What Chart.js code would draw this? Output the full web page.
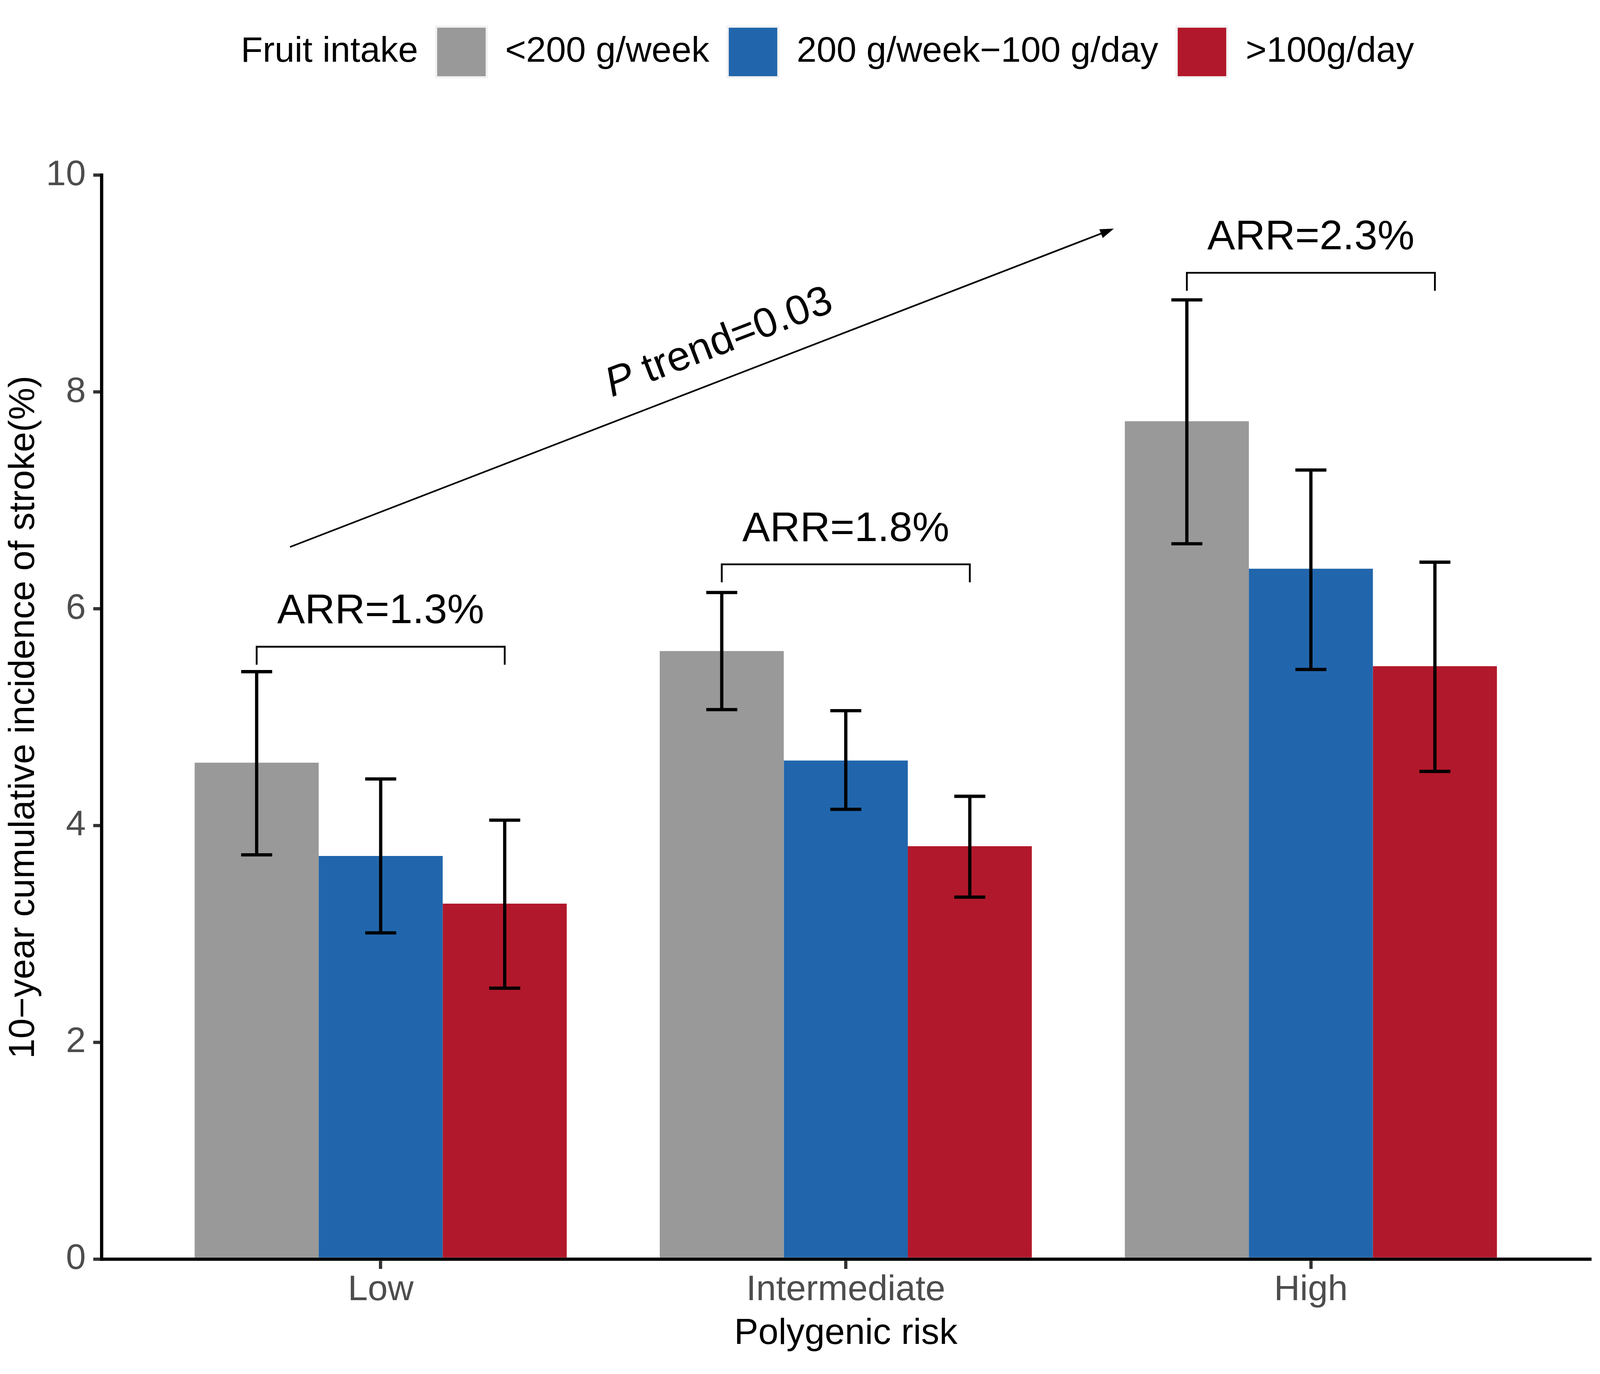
<!DOCTYPE html>
<html>
<head>
<meta charset="utf-8">
<script src="https://cdn.jsdelivr.net/npm/chart.js@4.4.1/dist/chart.umd.min.js"></script>
<style>
  html, body { margin: 0; padding: 0; background: #fff; overflow: hidden; }
  canvas { display: block; }
</style>
</head>
<body>
<canvas id="chart"></canvas>
<script>
// categories and series
const categories   = ['Low', 'Intermediate', 'High'];
const seriesLabels = ['<200 g/week', '200 g/week\u2212100 g/day', '>100g/day'];
const seriesColors = ['#999999', '#2166AC', '#B2182B'];

// bar heights (10-year cumulative incidence, %)
const grayValues = [4.58, 5.61, 7.73];
const blueValues = [3.72, 4.60, 6.37];
const redValues  = [3.28, 3.81, 5.47];

// 95% CI
const grayLower = [3.73, 5.07, 6.60];
const grayUpper = [5.42, 6.15, 8.85];
const blueLower = [3.01, 4.15, 5.44];
const blueUpper = [4.43, 5.06, 7.28];
const redLower  = [2.50, 3.34, 4.50];
const redUpper  = [4.05, 4.27, 6.43];

// annotations
const arrLabels  = ['ARR=1.3%', 'ARR=1.8%', 'ARR=2.3%'];
const bracketY   = [5.65, 6.41, 9.10];
const trendStart = [0.805, 6.57];
const trendEnd   = [2.572, 9.50];
const trendPos   = [1.728, 8.45];

const yTicks = [0, 2, 4, 6, 8, 10];

// layout; scale to whatever window we get
const W = window.innerWidth || 4770, H = window.innerHeight || 3517;
const sx = W / 4770, sy = H / 3517, fs = Math.sqrt(sx * sy);

const FONT = "'Liberation Sans', Arial, Helvetica, sans-serif";
Chart.defaults.font.family = FONT;

const allValues = [grayValues, blueValues, redValues];
const allLower  = [grayLower, blueLower, redLower];
const allUpper  = [grayUpper, blueUpper, redUpper];

const datasets = allValues.map((vals, s) => ({
  label: seriesLabels[s],
  data: vals.map((v, i) => ({ x: i + 1, y: v })),
  backgroundColor: seriesColors[s],
  borderWidth: 0,
  categoryPercentage: 0.8,
  barPercentage: 1.0,
}));

const annotate = {
  id: 'annotate',
  afterDatasetsDraw(chart) {
    const ctx = chart.ctx;
    const xs = chart.scales.x, ys = chart.scales.y;

    // error bars
    ctx.save();
    ctx.strokeStyle = '#000';
    ctx.lineWidth = 9 * fs;
    allValues.forEach((vals, s) => {
      const meta = chart.getDatasetMeta(s);
      meta.data.forEach((bar, i) => {
        const cap = bar.width * 0.125;
        const yl = ys.getPixelForValue(allLower[s][i]);
        const yu = ys.getPixelForValue(allUpper[s][i]);
        ctx.beginPath();
        ctx.moveTo(bar.x, yl); ctx.lineTo(bar.x, yu);
        ctx.moveTo(bar.x - cap, yu); ctx.lineTo(bar.x + cap, yu);
        ctx.moveTo(bar.x - cap, yl); ctx.lineTo(bar.x + cap, yl);
        ctx.stroke();
      });
    });
    ctx.restore();

    // ARR brackets + labels
    ctx.save();
    ctx.strokeStyle = '#000';
    ctx.lineWidth = 5 * fs;
    ctx.fillStyle = '#000';
    ctx.font = (115 * fs) + 'px ' + FONT;
    ctx.textAlign = 'center';
    ctx.textBaseline = 'alphabetic';
    categories.forEach((c, i) => {
      const x1 = chart.getDatasetMeta(0).data[i].x;
      const x2 = chart.getDatasetMeta(2).data[i].x;
      const yb = ys.getPixelForValue(bracketY[i]);
      ctx.beginPath();
      ctx.moveTo(x1, yb + 46 * sy); ctx.lineTo(x1, yb);
      ctx.lineTo(x2, yb); ctx.lineTo(x2, yb + 46 * sy);
      ctx.stroke();
      ctx.fillText(arrLabels[i], xs.getPixelForValue(i + 1), yb - 60 * sy);
    });
    ctx.restore();

    // trend arrow
    const ax1 = xs.getPixelForValue(trendStart[0]), ay1 = ys.getPixelForValue(trendStart[1]);
    const ax2 = xs.getPixelForValue(trendEnd[0]),   ay2 = ys.getPixelForValue(trendEnd[1]);
    const ang = Math.atan2(ay2 - ay1, ax2 - ax1);
    ctx.save();
    ctx.strokeStyle = '#000';
    ctx.fillStyle = '#000';
    ctx.lineWidth = 4.5 * fs;
    ctx.beginPath();
    ctx.moveTo(ax1, ay1); ctx.lineTo(ax2, ay2);
    ctx.stroke();
    ctx.translate(ax2, ay2);
    ctx.rotate(ang);
    ctx.beginPath();
    ctx.moveTo(6 * fs, 0); ctx.lineTo(-32 * fs, -13 * fs); ctx.lineTo(-32 * fs, 13 * fs); ctx.closePath();
    ctx.fill();
    ctx.restore();

    // P trend text, italic P
    ctx.save();
    ctx.translate(xs.getPixelForValue(trendPos[0]), ys.getPixelForValue(trendPos[1]));
    ctx.rotate(ang);
    ctx.fillStyle = '#000';
    ctx.textBaseline = 'middle';
    ctx.textAlign = 'left';
    const fItal = 'italic ' + (115 * fs) + 'px ' + FONT, fReg = (115 * fs) + 'px ' + FONT;
    const rest = ' trend=0.03';
    ctx.font = fItal;
    const wP = ctx.measureText('P').width;
    ctx.font = fReg;
    const wR = ctx.measureText(rest).width;
    const x0 = -(wP + wR) / 2;
    ctx.font = fItal;
    ctx.fillText('P', x0, 0);
    ctx.font = fReg;
    ctx.fillText(rest, x0 + wP, 0);
    ctx.restore();
  },
  afterDraw(chart) {
    // legend: title, keys and labels in one row
    const ctx = chart.ctx;
    ctx.save();
    ctx.font = (99 * fs) + 'px ' + FONT;
    ctx.fillStyle = '#000';
    ctx.textBaseline = 'middle';
    ctx.textAlign = 'left';
    const cy = 133 * sy, key = 134 * fs, rim = 6 * fs;
    let x = 718 * sx;
    ctx.fillText('Fruit intake', x, cy);
    x += ctx.measureText('Fruit intake').width + 57 * sx;
    seriesLabels.forEach((lab, s) => {
      ctx.fillStyle = '#F2F2F2';
      ctx.fillRect(x - rim, cy - key / 2 - rim, key + 2 * rim, key + 2 * rim);
      ctx.fillStyle = seriesColors[s];
      ctx.fillRect(x, cy - key / 2, key, key);
      x += key + 58 * sx;
      ctx.fillStyle = '#000';
      ctx.fillText(lab, x, cy);
      x += ctx.measureText(lab).width + 58 * sx;
    });
    ctx.restore();
  }
};

const canvas = document.getElementById('chart');
canvas.width = W; canvas.height = H;
canvas.style.width = W + 'px'; canvas.style.height = H + 'px';

const xTitleLH = 100 * fs, yTitleLH = 100 * fs;

new Chart(canvas, {
  type: 'bar',
  data: { datasets },
  options: {
    responsive: false,
    devicePixelRatio: 1,
    animation: false,
    layout: { padding: { left: 0, right: 30 * sx, top: 448.5 * sy, bottom: 0 } },
    plugins: { legend: { display: false }, tooltip: { enabled: false } },
    scales: {
      x: {
        type: 'linear', min: 0.4, max: 3.6, offset: false,
        afterBuildTicks: s => { s.ticks = categories.map((c, i) => ({ value: i + 1 })); },
        afterFit: s => { s.height = H - 3223 * sy; },
        ticks: { callback: v => categories[v - 1], font: { size: 99 * fs }, color: '#4D4D4D', padding: 0, maxRotation: 0 },
        grid: { display: true, drawOnChartArea: false, drawTicks: true, tickLength: 25 * sy, color: '#333333', lineWidth: 9 * fs, offset: false },
        border: { display: true, color: '#000', width: 9 * fs },
        title: { display: true, text: 'Polygenic risk', color: '#000', font: { size: 100 * fs, lineHeight: 1.0 },
                 padding: { top: 0, bottom: H - 3414 * sy - xTitleLH / 2 } }
      },
      y: {
        min: 0, max: 10,
        afterBuildTicks: s => { s.ticks = yTicks.map(v => ({ value: v })); },
        afterFit: s => { s.width = 303 * sx; },
        ticks: { font: { size: 99 * fs }, color: '#4D4D4D', padding: 22 * sx },
        grid: { display: true, drawOnChartArea: false, drawTicks: true, tickLength: 25 * sx, color: '#333333', lineWidth: 9 * fs },
        border: { display: true, color: '#000', width: 9 * fs },
        title: { display: true, text: '10\u2212year cumulative incidence of stroke(%)', color: '#000', font: { size: 100 * fs, lineHeight: 1.0 },
                 padding: { top: 71 * sx - yTitleLH / 2, bottom: 0 } }
      }
    }
  },
  plugins: [annotate]
});
</script>
</body>
</html>
